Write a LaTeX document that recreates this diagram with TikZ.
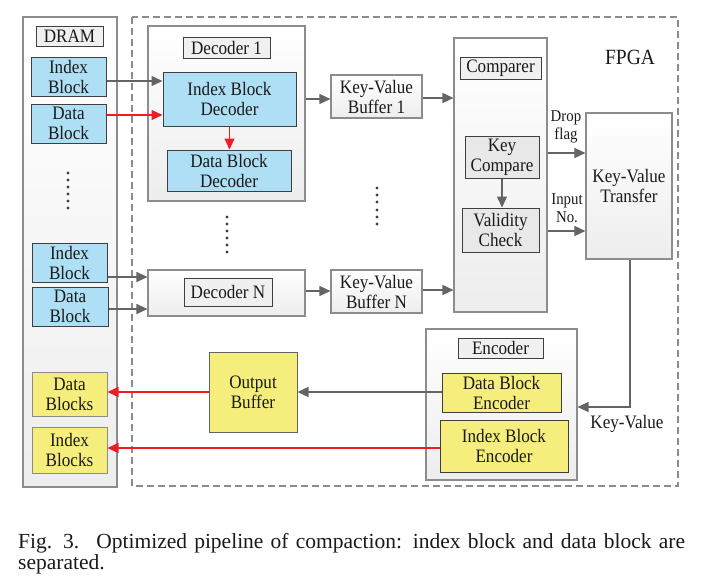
\documentclass[tikz,border=0pt]{standalone}
\usepackage{fontspec}
\setmainfont{Liberation Serif}[FakeStretch=0.9]
\newfontfamily\capfont{Liberation Serif}
\usetikzlibrary{arrows.meta,shadings}
\definecolor{blueF}{HTML}{AEDFF4}
\definecolor{yelF}{HTML}{F6EE7C}
\definecolor{darkL}{HTML}{3F3F3F}
\definecolor{contL}{HTML}{8C8C8C}
\definecolor{arrG}{HTML}{646464}
\definecolor{redA}{HTML}{EE1C25}
\definecolor{lblF}{HTML}{F0F0F0}
\definecolor{kcF}{HTML}{E8E8E8}
\definecolor{txt}{HTML}{1A1A1A}
\tikzset{
  every node/.style={text=txt, inner sep=0pt, align=center, font=\fontsize{19}{20}\selectfont},
  cont/.style={draw=contL, line width=1.1pt, top color=white, bottom color=black!7},
  lbl/.style={draw=darkL, fill=lblF, line width=1pt},
  bluebox/.style={draw=darkL, fill=blueF, line width=1pt},
  yelbox/.style={draw=darkL, fill=yelF, line width=1pt},
  kcbox/.style={draw=darkL, fill=kcF, line width=1pt},
  ga/.style={draw=arrG, line width=1.3pt, -{Triangle[length=11pt,width=10pt]}},
  ra/.style={draw=redA, line width=1.2pt, -{Triangle[length=11pt,width=10pt]}},
  dotcol/.style={fill=darkL},
  small/.style={font=\fontsize{16.5}{18}\selectfont}
}
\begin{document}
\begin{tikzpicture}[x=1pt,y=-1pt]
\useasboundingbox (0,0) rectangle (702,581);
% DRAM
\node[cont, minimum width=94pt, minimum height=470pt] (dram) at (70,252) {};
\node[lbl, minimum width=67pt, minimum height=20pt] (dramL) at (69.5,36) {DRAM};
\node[bluebox, minimum width=75pt, minimum height=39pt] (ib1) at (68.5,76.5) {Index\\Block};
\node[bluebox, minimum width=75pt, minimum height=39pt] (db1) at (68.5,123.5) {Data\\Block};
\foreach \y in {173,180,187,194,201,208} \fill[dotcol] (68,\y) circle (1.6pt);
\node[bluebox, minimum width=75pt, minimum height=39pt] (ib2) at (69.5,262.5) {Index\\Block};
\node[bluebox, minimum width=76pt, minimum height=39pt] (db2) at (70,306.5) {Data\\Block};
\node[yelbox, draw=contL, minimum width=75pt, minimum height=44pt] (dbs) at (69.5,394) {Data\\Blocks};
\node[yelbox, draw=contL, minimum width=75pt, minimum height=46pt] (ibs) at (69.5,450) {Index\\Blocks};
% FPGA
\draw[contL, line width=1.3pt, dash pattern=on 7pt off 4pt] (132,17) rectangle (678,486);
\node[font=\fontsize{21.7}{22}\selectfont] (fpga) at (630,57) {FPGA};
% Decoder 1
\node[cont, minimum width=157pt, minimum height=175pt] (dec1) at (226.5,113.5) {};
\node[lbl, minimum width=87pt, minimum height=21pt] (dec1L) at (226.5,47.5) {Decoder 1};
\node[bluebox, minimum width=133pt, minimum height=54pt] (ibd) at (229.5,99) {Index Block\\Decoder};
\node[bluebox, minimum width=124pt, minimum height=41pt] (dbd) at (229,170.5) {Data Block\\Decoder};
\foreach \y in {217,224,231,238,245,252} \fill[dotcol] (227,\y) circle (1.6pt);
% Decoder N
\node[cont, minimum width=157pt, minimum height=46pt] (decN) at (226.5,293) {};
\node[lbl, minimum width=88pt, minimum height=28pt] (decNL) at (228,292) {Decoder N};
% KV buffers
\node[cont, minimum width=91pt, minimum height=43pt] (kvb1) at (376.5,96.5) {Key-Value\\Buffer 1};
\node[cont, minimum width=91pt, minimum height=43pt] (kvbN) at (376.5,291.5) {Key-Value\\Buffer N};
\foreach \y in {188,195,202,210,217,224} \fill[dotcol] (377,\y) circle (1.6pt);
% Comparer
\node[cont, minimum width=93pt, minimum height=274pt] (cmp) at (500.5,175) {};
\node[lbl, minimum width=81pt, minimum height=22pt] (cmpL) at (500.5,68) {Comparer};
\node[kcbox, minimum width=74pt, minimum height=42pt] (kc) at (502,157) {Key\\Compare};
\node[kcbox, minimum width=77pt, minimum height=44pt] (vc) at (500.5,230) {Validity\\Check};
% KV transfer
\node[cont, minimum width=86pt, minimum height=146pt] (kvt) at (629,186) {Key-Value\\Transfer};
% Encoder
\node[cont, minimum width=151pt, minimum height=151pt] (enc) at (501.5,404.5) {};
\node[lbl, minimum width=85pt, minimum height=20pt] (encL) at (500.5,348) {Encoder};
\node[yelbox, minimum width=119pt, minimum height=39pt] (dbe) at (501.5,392.5) {Data Block\\Encoder};
\node[yelbox, minimum width=128pt, minimum height=52pt] (ibe) at (504,446) {Index Block\\Encoder};
% Output buffer
\node[yelbox, draw=arrG, minimum width=88pt, minimum height=80pt] (ob) at (253,392) {Output\\Buffer};
% arrows
\draw[ga] (ib1.east |- 0,81) -- (ibd.west |- 0,81);
\draw[ra] (db1.east |- 0,115) -- (ibd.west |- 0,115);
\draw[ra] (ibd.south) -- (dbd.north -| ibd.south);
\draw[ga] (dec1.east |- 0,99) -- (kvb1.west |- 0,99);
\draw[ga] (kvb1.east |- 0,98) -- (cmp.west |- 0,98);
\draw[ga] (ib2.east |- 0,277) -- (decN.west |- 0,277);
\draw[ga] (db2.east |- 0,309) -- (decN.west |- 0,309);
\draw[ga] (decN.east |- 0,291) -- (kvbN.west |- 0,291);
\draw[ga] (kvbN.east |- 0,290) -- (cmp.west |- 0,290);
\draw[ga] (kc.south -| 502,0) -- (vc.north -| 502,0);
\draw[ga] (cmp.east |- 0,153) -- (kvt.west |- 0,153);
\draw[ga] (cmp.east |- 0,231) -- (kvt.west |- 0,231);
\node[small] (dropL) at (566,127) {Drop\\flag};
\node[small] (inL) at (567,208) {Input\\No.};
\draw[ga] (kvt.south -| 630,0) |- (enc.east |- 0,407);
\node (kvL) at (627,424) {Key-Value};
\draw[ga] (dbe.west |- 0,392) -- (ob.east |- 0,392);
\draw[ra] (ob.west |- 0,392) -- (dbs.east |- 0,392);
\draw[ra] (ibe.west |- 0,448) -- (ibs.east |- 0,448);
% caption
\node[anchor=base west, font=\capfont\fontsize{21.5}{21.5}\selectfont, align=left, text width=668pt] (cap) at (18,548) {\makebox[668pt][s]{Fig. 3.\hspace{0.3em} Optimized pipeline of compaction: index block and data block are}\\separated.};
\end{tikzpicture}
\end{document}
